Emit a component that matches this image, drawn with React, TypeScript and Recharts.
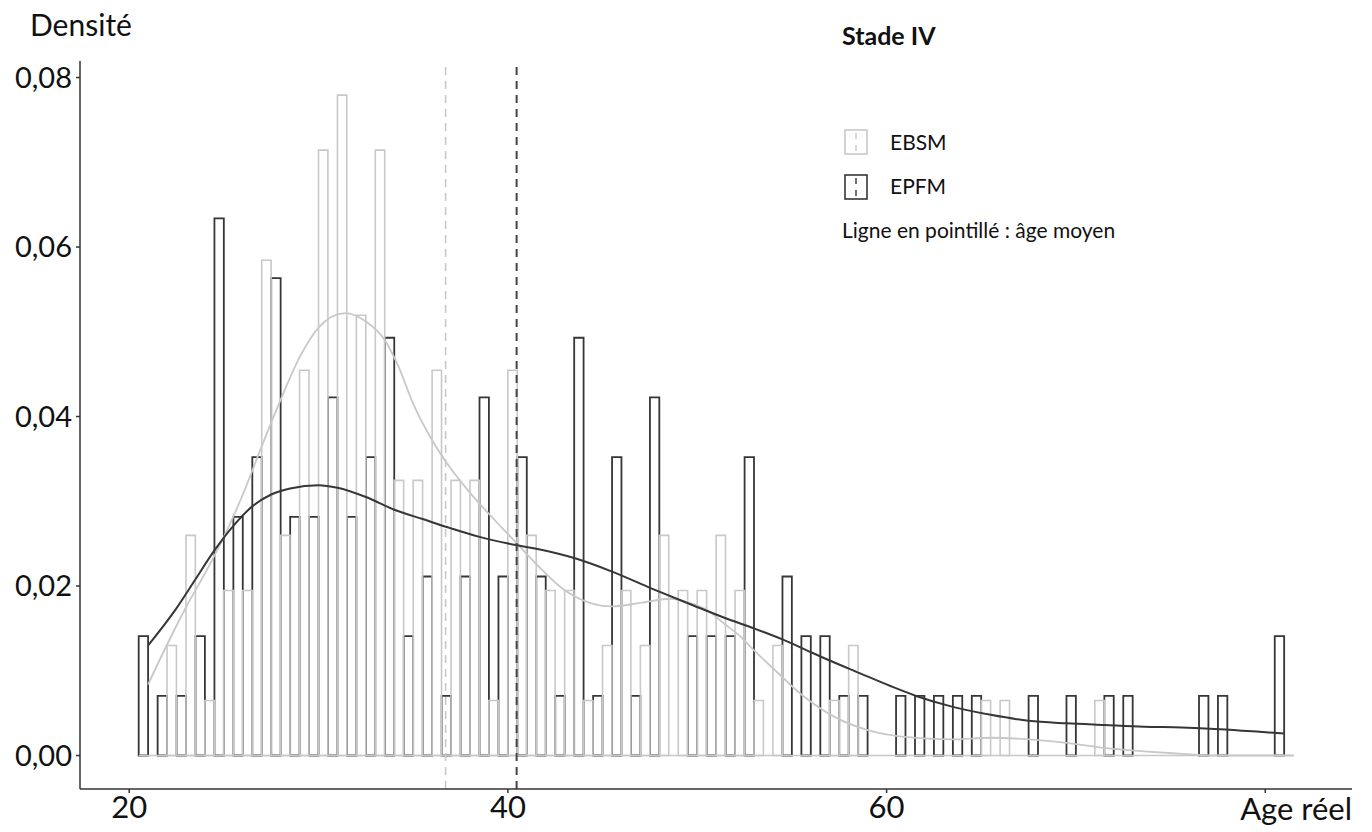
import { ComposedChart, Bar, Line, XAxis, YAxis, ReferenceLine } from "recharts";

// ages (1-year bins, centred on the integer age)
const ages = [
  21, 22, 23, 24, 25, 26, 27, 28, 29, 30, 31, 32, 33, 34, 35, 36, 37, 38, 39, 40,
  41, 42, 43, 44, 45, 46, 47, 48, 49, 50, 51, 52, 53, 54, 55, 56, 57, 58, 59, 60,
  61, 62, 63, 64, 65, 66, 67, 68, 69, 70, 71, 72, 73, 74, 75, 76, 77, 78, 79, 80, 81,
];

// counts per bin
const epfmCounts = [
  2, 1, 1, 2, 9, 4, 5, 8, 4, 4, 6, 4, 5, 7, 2, 3, 1, 3, 6, 3,
  5, 3, 1, 7, 1, 5, 1, 6, 0, 2, 2, 2, 5, 0, 3, 2, 2, 1, 1, 0,
  1, 1, 1, 1, 1, 0, 0, 1, 0, 1, 0, 1, 1, 0, 0, 0, 1, 1, 0, 0, 2,
];
const ebsmCounts = [
  0, 2, 4, 1, 3, 3, 9, 4, 7, 11, 12, 8, 11, 5, 5, 7, 5, 5, 1, 7,
  4, 3, 3, 1, 2, 3, 2, 4, 3, 3, 4, 3, 1, 2, 0, 0, 1, 2, 0, 0,
  0, 0, 0, 0, 1, 1, 0, 0, 0, 0, 1, 0, 0, 0, 0, 0, 0, 0, 0, 0, 0,
];

// density curves
const ebsmCurveAges = [
  21, 22, 23, 24, 25, 26, 27, 28, 29, 30, 31.4, 32.5, 33.5, 34.2, 35, 36, 37, 38, 39,
  40.4, 41.5, 43, 44.5, 45.5, 47, 48.6, 49.6, 50.5, 51.4, 52.2, 53, 54, 55.5, 57.3,
  59, 61.4, 63.4, 65.5, 67.5, 69.5, 71.5, 73.6, 75.6, 77, 81.5,
];
const ebsmCurveValues = [
  0.0084, 0.0131, 0.0175, 0.0215, 0.0258, 0.0308, 0.0365, 0.042, 0.047, 0.0505, 0.0522,
  0.0512, 0.049, 0.046, 0.0415, 0.0372, 0.0338, 0.031, 0.0285, 0.0252, 0.0226, 0.0195,
  0.0179, 0.0176, 0.018, 0.0185, 0.018, 0.0172, 0.0156, 0.0142, 0.0124, 0.0103,
  0.0072, 0.0045, 0.003, 0.0021, 0.0019, 0.0021, 0.0019, 0.0015, 0.0009, 0.0005,
  0.0002, 0, 0,
];
const epfmCurveAges = [
  21, 22.5, 23.5, 24.5, 25.5, 26.5, 27.5, 28.5, 30, 31, 32.5, 34, 35.5, 37, 38.5, 40.5,
  41.5, 43.5, 45.5, 47.6, 49.8, 51.5, 53, 54.5, 55.7, 56.9, 58.6, 60.2, 61.6, 63.4,
  65.5, 67.5, 69.5, 71.5, 73.6, 75.6, 77.6, 79.7, 81,
];
const epfmCurveValues = [
  0.013, 0.0174, 0.0208, 0.0242, 0.0271, 0.0294, 0.0308, 0.0315, 0.0319, 0.0316,
  0.0305, 0.029, 0.0279, 0.0268, 0.0258, 0.0248, 0.0244, 0.0233, 0.0217, 0.0197,
  0.0177, 0.0162, 0.015, 0.0137, 0.0125, 0.0113, 0.0097, 0.0082, 0.007, 0.0058,
  0.0048, 0.0041, 0.0038, 0.0036, 0.0034, 0.0033, 0.0031, 0.0028, 0.0026,
];

const meanEbsm = 36.71;
const meanEpfm = 40.46;

const xTicks = [20, 40, 60, 80];
const yTicks = [0, 0.02, 0.04, 0.06, 0.08];

const DARK = "#363636";
const LIGHT = "#c8c8c8";
const FONT = "Lato, 'Open Sans', sans-serif";

const nEpfm = epfmCounts.reduce((a, b) => a + b, 0);
const nEbsm = ebsmCounts.reduce((a, b) => a + b, 0);

const bins = ages.map((age, i) => ({
  age,
  epfm: epfmCounts[i] / nEpfm,
  ebsm: ebsmCounts[i] / nEbsm,
}));
const ebsmCurve = ebsmCurveAges.map((age, i) => ({ age, d: ebsmCurveValues[i] }));
const epfmCurve = epfmCurveAges.map((age, i) => ({ age, d: epfmCurveValues[i] }));

const X_DOMAIN: [number, number] = [17.4, 84.58];

function LegendKey({ x, y, color }: { x: number; y: number; color: string }) {
  return (
    <g>
      <rect x={x} y={y} width={22} height={24} fill="none" stroke={color} strokeWidth={1.6} />
      <line x1={x + 11} y1={y + 3} x2={x + 11} y2={y + 24} stroke={color} strokeWidth={1.4} strokeDasharray="6 6" />
    </g>
  );
}

export default function App() {
  return (
    <div style={{ position: "absolute", left: 0, top: 0, width: 1372, height: 832, background: "#fff" }}>
      <ComposedChart
        width={1372}
        height={832}
        data={bins}
        margin={{ top: 61, right: 20, bottom: 0, left: 0 }}
        barGap={0}
        barCategoryGap={0}
      >
        <XAxis
          dataKey="age"
          type="number"
          domain={X_DOMAIN}
          allowDataOverflow
          ticks={xTicks}
          interval={0}
          tickFormatter={(v: number) => (v === 80 ? "" : String(v))}
          height={43}
          axisLine={{ stroke: "#333", strokeWidth: 1.5 }}
          tickLine={{ stroke: "#333", strokeWidth: 1.5 }}
          tickSize={4}
          tickMargin={3}
          tick={{ fontSize: 31, fill: "#111", fontFamily: FONT }}
        />
        <XAxis xAxisId="curve" dataKey="age" type="number" domain={X_DOMAIN} allowDataOverflow hide />
        <YAxis
          type="number"
          domain={[-0.00395, 0.08195]}
          allowDataOverflow
          ticks={yTicks}
          interval={0}
          width={80}
          tickFormatter={(v: number) => v.toFixed(2).replace(".", ",")}
          axisLine={{ stroke: "#333", strokeWidth: 1.5 }}
          tickLine={{ stroke: "#333", strokeWidth: 1.5 }}
          tickSize={4}
          tickMargin={4}
          tick={{ fontSize: 29, fill: "#111", fontFamily: FONT }}
        />
        <ReferenceLine
          segment={[
            { x: ages[0] - 0.5, y: 0 },
            { x: ages[ages.length - 1] + 0.5, y: 0 },
          ]}
          stroke={LIGHT}
          strokeWidth={1.6}
        />
        <Bar dataKey="epfm" barSize={9.4} fill="none" stroke={DARK} strokeWidth={1.8} isAnimationActive={false} />
        <Bar dataKey="ebsm" barSize={9.4} fill="none" stroke={LIGHT} strokeWidth={1.6} isAnimationActive={false} />
        <Line
          xAxisId="curve"
          data={ebsmCurve}
          dataKey="d"
          type="monotone"
          dot={false}
          activeDot={false}
          stroke={LIGHT}
          strokeWidth={1.8}
          isAnimationActive={false}
        />
        <Line
          xAxisId="curve"
          data={epfmCurve}
          dataKey="d"
          type="monotone"
          dot={false}
          activeDot={false}
          stroke={DARK}
          strokeWidth={2}
          isAnimationActive={false}
        />
        <ReferenceLine x={meanEbsm} stroke={LIGHT} strokeWidth={1.6} strokeDasharray="8 6" />
        <ReferenceLine x={meanEpfm} stroke="#444" strokeWidth={2} strokeDasharray="8 6" />
      </ComposedChart>
      <svg
        width={1372}
        height={832}
        style={{ position: "absolute", left: 0, top: 0, pointerEvents: "none" }}
        fontFamily={FONT}
      >
        <text x={30} y={36} fontSize={30} fill="#111">Densité</text>
        <text x={842} y={45} fontSize={25} fontWeight="bold" fill="#111">Stade IV</text>
        <LegendKey x={845} y={130} color={LIGHT} />
        <text x={890} y={150} fontSize={21} fill="#111">EBSM</text>
        <LegendKey x={845} y={175} color={DARK} />
        <text x={890} y={194} fontSize={21} fill="#111">EPFM</text>
        <text x={842} y={238} fontSize={21} fill="#111">Ligne en pointillé : âge moyen</text>
        <text x={1352} y={820} fontSize={31} fill="#111" textAnchor="end">Age réel</text>
      </svg>
    </div>
  );
}
